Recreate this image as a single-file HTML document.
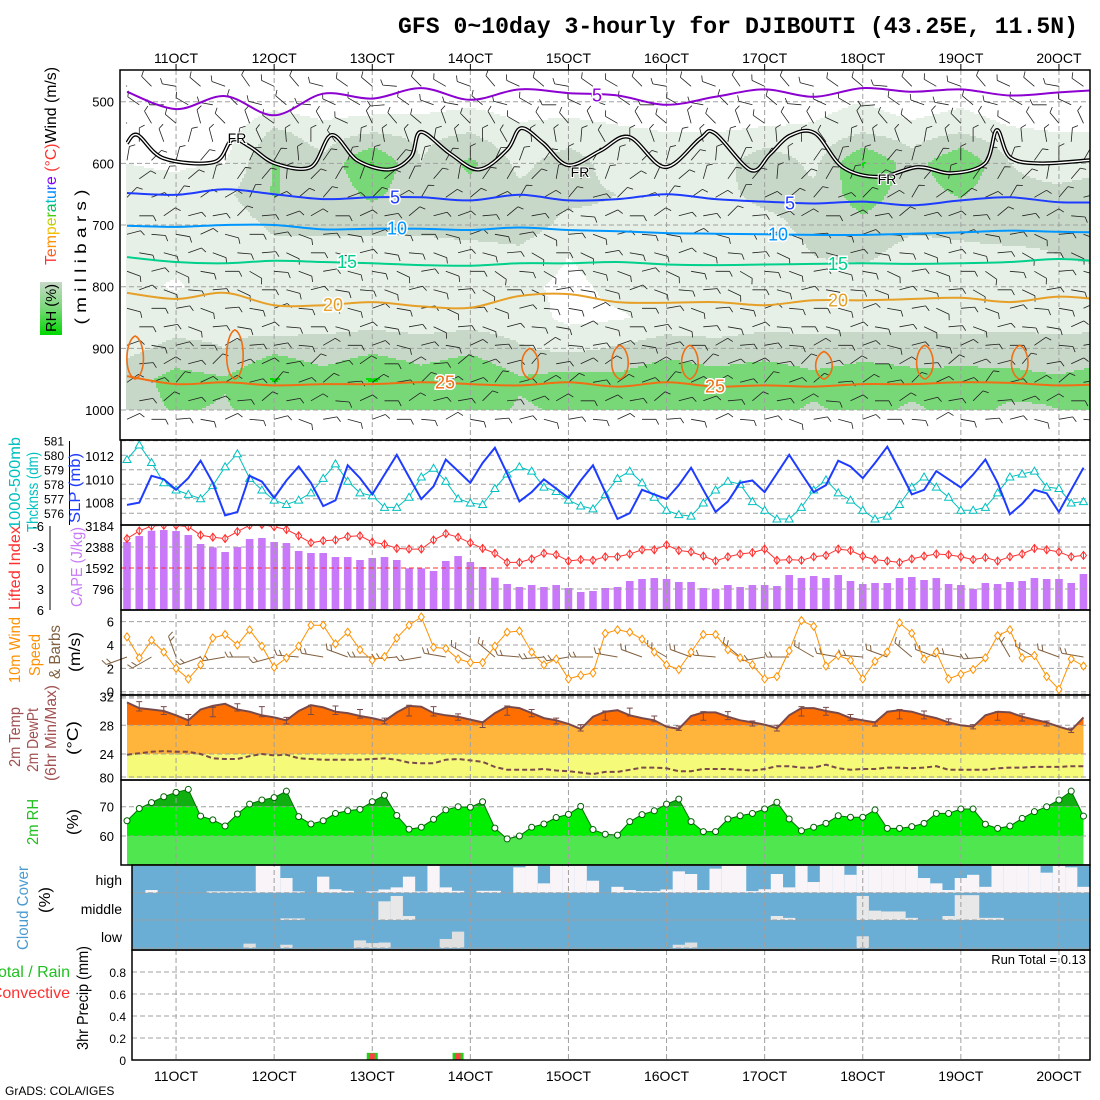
<!DOCTYPE html>
<html><head><meta charset="utf-8"><title>GFS meteogram DJIBOUTI</title>
<style>
html,body{margin:0;padding:0;background:#fff;}
svg{display:block;font-family:"Liberation Sans",sans-serif;}
</style></head>
<body>
<svg id="chart" xmlns="http://www.w3.org/2000/svg" width="1100" height="1100" viewBox="0 0 1100 1100">
<defs>
<clipPath id="plotClip"><rect x="126" y="70" width="964" height="370"/></clipPath>
<linearGradient id="rhGrad" x1="0" y1="1" x2="0" y2="0">
<stop offset="0" stop-color="#00d800"/><stop offset="0.5" stop-color="#78d878"/><stop offset="1" stop-color="#c8d8c8"/>
</linearGradient>
</defs>
<text x="1078" y="33" text-anchor="end" font-family="Liberation Mono, monospace" font-weight="bold" font-size="23" textLength="680" lengthAdjust="spacingAndGlyphs">GFS 0~10day 3-hourly for DJIBOUTI (43.25E, 11.5N)</text>
<text x="5" y="1095" font-size="12">GrADS: COLA/IGES</text>
</svg>
<script>
// ---------- data ----------
const dayLabels = ['11OCT','12OCT','13OCT','14OCT','15OCT','16OCT','17OCT','18OCT','19OCT','20OCT'];
const slp = [1007.8,1008.0,1010.3,1010.0,1009.1,1010.1,1011.6,1009.7,1006.9,1007.2,
1010.3,1009.8,1008.4,1009.9,1011.1,1009.7,1007.7,1008.2,1011.2,1010.1,
1008.7,1010.4,1012.1,1010.2,1008.3,1009.4,1011.7,1010.7,1009.7,1011.4,
1012.7,1010.5,1008.1,1008.9,1010.0,1009.2,1008.4,1009.9,1011.2,1008.9,
1006.6,1007.1,1009.1,1008.7,1008.3,1009.5,1011.0,1009.1,1007.2,1008.1,
1009.7,1009.9,1008.9,1010.5,1012.1,1010.5,1008.9,1009.5,1011.6,1011.1,
1010.1,1011.4,1012.8,1010.8,1008.7,1009.1,1010.7,1010.0,1009.3,1010.4,
1011.7,1009.7,1007.0,1007.9,1009.1,1008.8,1007.2,1009.1,1011.0];
const thick = [579.7,580.7,579.5,578.1,577.6,577.3,577.0,577.9,579.2,580.1,
578.4,577.6,576.9,576.6,576.9,577.4,578.4,579.4,578.2,577.4,
577.2,576.4,576.4,577.1,578.5,579.1,578.2,577.0,576.7,576.6,
577.7,578.7,579.2,578.9,577.8,577.5,576.9,576.5,576.3,577.3,
578.4,578.9,578.1,577.1,576.2,575.9,575.8,576.7,577.6,578.2,
578.0,576.8,576.2,575.6,575.6,576.4,577.6,578.3,577.4,576.9,
576.2,575.6,575.8,576.6,577.8,578.5,577.8,577.1,576.2,576.2,
576.4,577.4,578.5,578.7,578.9,577.8,577.7,576.7,576.8];
const liftedIndex = [-4.2,-5.3,-6.0,-6.1,-6.1,-5.9,-4.7,-4.4,-4.2,-5.2,
-6.1,-6.2,-5.9,-5.5,-4.6,-3.6,-3.9,-4.0,-4.5,-4.6,
-3.7,-3.4,-2.8,-2.7,-2.7,-4.0,-4.9,-4.4,-3.6,-2.8,
-2.1,-0.8,-0.8,-1.3,-2.1,-1.9,-1.0,-1.2,-1.1,-1.6,
-1.6,-2.0,-2.6,-2.6,-3.3,-2.5,-2.3,-1.7,-1.0,-1.6,
-2.0,-2.2,-2.7,-1.1,-1.2,-1.1,-1.6,-1.8,-2.7,-2.5,
-1.7,-1.2,-1.0,-0.8,-1.3,-1.7,-2.0,-1.9,-1.6,-1.2,
-1.5,-1.0,-1.6,-2.0,-2.8,-2.6,-2.3,-1.6,-1.8];
const cape = [2577,2804,3006,3031,2993,2842,2501,2374,2198,2387,
2690,2728,2577,2539,2236,2160,2160,2008,2008,1895,
1970,2008,1895,1579,1579,1478,1857,2046,1819,1629,
1225,985,871,947,871,947,834,682,720,834,
871,1099,1175,1212,1175,1061,1061,834,796,947,
871,947,947,909,1326,1212,1288,1212,1326,1099,
985,1023,1023,1212,1250,1137,1212,985,947,796,
1023,985,1061,1099,1212,1175,1175,1023,1364];
const windSpeed = [4.7,2.9,4.4,3.4,2.0,1.1,2.3,4.6,4.9,4.0,
5.3,3.9,2.1,2.9,3.9,5.7,5.7,4.1,5.1,3.6,
2.7,3.0,4.6,5.7,6.4,3.8,3.7,2.8,2.5,2.5,
3.9,5.1,5.2,3.4,2.3,2.8,1.1,1.4,1.6,5.0,
5.3,5.1,4.5,3.4,2.3,1.9,3.4,4.9,4.9,3.6,
2.9,2.3,1.1,1.3,3.5,6.1,5.6,2.2,3.1,2.7,
1.1,2.6,3.4,5.9,5.0,2.8,3.4,1.1,1.5,1.9,
2.9,4.8,5.3,2.9,3.1,1.3,0.2,2.8,2.2];
const windDir6h = [70,60,160,70,80,90,75,95,100,110,90,85,80,100,120,130,95,85,80,90,
100,110,120,110,95,130,80,90,120,100,95,110,130,110,100,85,150,120,110,100];
const temp2m = [31.2,30.4,30.2,30.0,29.4,28.7,30.2,30.7,31.0,30.2,
29.9,29.4,29.1,28.7,30.0,30.8,30.5,29.9,29.7,29.3,
29.0,28.6,29.8,30.7,30.6,29.7,29.4,29.2,28.8,28.4,
29.7,30.6,30.4,29.7,29.0,28.7,28.2,27.5,29.2,29.9,
30.1,29.4,29.0,28.7,27.8,27.5,29.3,29.8,29.8,29.2,
28.7,28.4,28.1,27.6,29.4,30.4,30.4,30.0,29.7,29.0,
28.7,28.4,29.9,30.1,29.9,29.4,29.0,28.4,28.0,27.8,
29.4,29.9,29.8,29.2,28.8,28.4,27.8,27.3,29.1];
const dew2m = [23.9,24.1,24.3,24.4,24.3,24.3,24.0,23.4,23.3,23.3,
23.7,24.0,23.8,23.9,23.4,23.3,23.2,23.2,23.2,23.2,
23.3,23.4,23.2,22.8,22.7,22.7,23.2,23.3,23.1,22.9,
22.2,21.8,21.8,21.8,21.9,21.7,21.6,21.4,21.2,21.5,
21.5,21.8,22.1,22.1,22.0,21.6,21.6,21.9,21.9,21.9,
21.8,21.7,21.9,22.3,22.3,22.1,22.1,22.5,22.0,21.8,
21.9,21.9,22.1,22.1,22.0,22.1,22.3,21.8,21.8,21.8,
21.8,22.0,22.1,22.1,22.2,22.2,22.2,22.3,22.3];
const rh2m = [65.2,69.4,71.4,73.4,74.9,75.9,66.8,65.5,63.4,67.5,
70.9,72.3,73.1,75.3,66.6,64.1,65.2,67.7,68.6,69.1,
71.7,73.9,67.0,62.3,63.0,65.7,68.9,70.0,69.8,71.7,
62.7,59.0,60.0,63.0,64.1,66.3,67.4,70.1,62.2,60.6,
60.3,64.9,67.3,68.6,70.9,72.6,64.9,61.5,61.5,65.8,
66.9,67.7,69.2,71.5,65.8,61.8,63.0,64.3,66.9,66.4,
66.4,68.9,62.6,62.6,63.2,64.3,67.7,67.7,69.2,69.2,
64.0,62.6,63.4,66.0,68.3,70.0,72.3,75.3,66.8];
const cloudHigh = [0,0,0.1,0,0,0,0,0.05,0.05,0.05,
0.05,1,1,0.55,0.05,0,0.6,0.13,0.07,0,
0.05,0.12,0.2,0.6,0.05,1,0.2,0.07,0,0.07,
0.07,0,0.95,1,0.35,1,1,1,0.45,0,
0.22,0.1,0.06,0.06,0.12,0.8,0.7,0.1,0.9,1,
1,0.06,0.13,0.7,0.2,1,0.4,1,1,0.67,
1,1,1,1,1,0.55,0.35,0.1,0.55,0.67,
0.22,1,1,1,1,0.75,1,0.95,0.22];
const cloudMidIdx = [13,14,21,22,23,53,54,60,61,62,63,64,67,68,69,70,71];
const cloudMidVal = [0.06,0.06,0.7,0.9,0.15,0.15,0.08,0.9,0.35,0.32,0.32,0.08,0.15,0.93,0.93,0.08,0.08];
const cloudLowIdx = [10,13,19,20,21,26,27,45,46,60];
const cloudLowVal = [0.16,0.12,0.28,0.18,0.2,0.33,0.6,0.12,0.2,0.43];
const precipIdx = [20,27];
const precipTotal = [0.065,0.065];
const precipConv = [0.06,0.06];
// 6-hourly min/max temperature bars (every other 3h point)
const tMaxIdx = [1,3,5,7,9,11,13,15,17,19,21,23,25,27,29,31,33,35,37,39,41,43,45,47,49,51,53,55,57,59,61,63,65,67,69,71,73,75,77];
const tMax6 = [31.3,30.6,29.5,30.5,31.0,30.6,29.1,30.8,30.7,30.2,29.0,30.8,30.6,29.6,28.5,30.7,30.2,29.0,28.1,30.0,30.4,29.3,27.9,29.9,29.9,28.6,28.0,30.6,30.5,29.5,28.5,30.2,30.0,28.9,28.1,29.9,29.6,28.6,27.6];
const tMin6 = [30.0,29.5,28.0,29.2,30.0,29.2,28.2,29.5,29.5,29.0,28.2,29.3,29.3,28.7,27.7,29.4,29.2,28.2,27.2,28.7,29.3,28.5,27.3,28.7,28.8,27.9,27.2,29.3,29.4,28.7,27.9,28.9,28.9,28.1,27.5,28.7,28.6,27.9,27.0];
// upper-air RH (%) every 12h (columns) at levels
const rhLevels = [500,550,600,650,700,750,800,850,900,950,1000];
const rh500  = [10,10,10,20,15,15,20,25,20,20,15,15,10,10,20,30,15,25,10,10,10];
const rh550  = [15,15,20,55,40,50,45,50,35,40,35,30,30,35,35,50,40,50,35,30,30];
const rh600  = [30,28,30,72,55,92,50,75,45,60,40,35,40,65,45,92,60,90,50,40,40];
const rh650  = [35,35,45,72,55,75,55,62,55,55,50,50,45,55,55,80,60,72,55,55,65];
const rh700  = [35,32,35,55,55,55,55,60,60,45,45,40,40,45,55,65,55,55,60,55,60];
const rh750  = [35,35,35,40,40,40,40,40,45,30,40,35,35,40,50,55,40,45,45,50,55];
const rh800  = [35,28,40,35,35,35,35,35,35,25,35,35,35,35,40,35,40,40,40,40,40];
const rh850  = [40,40,45,30,40,40,40,40,40,25,28,35,35,40,40,40,40,40,40,40,40];
const rh900  = [45,55,50,65,58,65,58,65,52,45,52,62,58,62,58,62,62,58,62,58,62];
const rh950  = [60,78,72,92,78,92,80,90,72,78,75,85,78,82,75,80,75,78,75,72,78];
const rh1000 = [60,72,68,78,70,78,72,78,68,72,70,74,70,74,68,74,68,74,68,70,74];
// isotherm pressures (mb) every 12h
const isoM5 = [484,512,491,522,487,495,478,497,480,486,490,505,492,480,492,478,484,480,490,485,480];
const iso5  = [648,651,642,650,658,655,655,660,651,660,658,650,658,662,665,662,668,660,655,663,663];
const iso10 = [701,703,700,700,707,706,706,708,704,708,710,713,714,715,716,716,714,712,709,711,712];
const iso15 = [752,760,762,758,760,762,765,766,762,762,760,764,765,764,763,762,763,762,760,755,760];
const iso20 = [810,820,810,830,830,825,832,834,815,812,825,826,825,830,822,822,820,818,825,816,822];
const iso25 = [945,958,955,960,958,958,955,958,960,955,962,955,962,960,962,958,958,955,956,960,958];
const frHours = [0,2.6,9,21.3,25.7,30.1,36.2,45,50.1,56.3,64.1,69.5,71.9,79,86.1,93,96.4,101.8,107.9,115.7,122.8,131.6,140.2,143.8,152.6,157.3,162.2,168.3,175.1,184,193.5,201.6,209.9,212.8,216,223.3,235.5];
const frPres  = [567,554,592,598,562,573,600,606,554,595,610,589,549,584,610,578,543,567,603,580,557,606,560,551,611,585,555,551,606,622,606,616,600,546,590,600,595];
const loop25Hours = [2,26.4,98.6,120.6,137.7,170.5,195.2,218.4];
const loop25Top   = [880,870,900,895,895,905,895,895];
const barbLevels = [475,505,535,565,595,625,655,685,715,745,775,805,835,865,895,925,955,985,1015];
const barbLevelDir = [300,290,320,350,20,30,50,70,90,95,100,95,90,90,80,65,60,70,85];
const barbWobble = [0,15,-20,10,-10,25,-5,20,-15,5,10,-25,15,0,-10,20,-5,10,-20,5];

// ---------- helpers ----------
const NS = 'http://www.w3.org/2000/svg';
const svg = document.getElementById('chart');
function el(tag, attrs, parent){const e=document.createElementNS(NS,tag);for(const k in attrs)e.setAttribute(k,attrs[k]);(parent||svg).appendChild(e);return e;}
const X0 = 127, DX = 12.2625;
const xi = i => X0 + DX*i;
const xh = h => X0 + h*DX/3;
const xDay = d => xh(12 + 24*d);
const yP = p => 101.7 + (p-500)*0.6167;
const ySlp = v => 479.3 - (v-1010)*11.65;
const yTh = v => 440.7 + (581-v)*14.5;
const yLI = v => 568 + v*7.0;
const yCape = v => 610 - v/3184*84;
const yWind = v => 691.7 - v*11.67;
const yT = v => 725.3 - (v-28)*7.17;
const yRH = v => 806.7 - (v-70)*2.93;
const yPr = v => 1060 - v*110;
function txt(x,y,s,opts,parent){const t=el('text',Object.assign({x:x,y:y},opts||{}),parent);t.textContent=s;return t;}
function spline(pts){let d='M'+pts[0][0].toFixed(1)+','+pts[0][1].toFixed(1);
 for(let i=0;i<pts.length-1;i++){const p0=pts[Math.max(i-1,0)],p1=pts[i],p2=pts[i+1],p3=pts[Math.min(i+2,pts.length-1)];
 const c1=[p1[0]+(p2[0]-p0[0])/6,p1[1]+(p2[1]-p0[1])/6],c2=[p2[0]-(p3[0]-p1[0])/6,p2[1]-(p3[1]-p1[1])/6];
 d+=' C'+c1[0].toFixed(1)+','+c1[1].toFixed(1)+' '+c2[0].toFixed(1)+','+c2[1].toFixed(1)+' '+p2[0].toFixed(1)+','+p2[1].toFixed(1);}return d;}
function poly(arr,fx,fy){return arr.map((v,i)=>fx(i).toFixed(1)+','+fy(v).toFixed(1)).join(' ');}
function barb(x,y,dir,len,color,parent,nt,w){const a=dir*Math.PI/180;const ex=x+Math.sin(a)*len,ey=y-Math.cos(a)*len;
 let d='M'+x.toFixed(1)+','+y.toFixed(1)+'L'+ex.toFixed(1)+','+ey.toFixed(1);
 for(let k=0;k<nt;k++){const bx=x+Math.sin(a)*len*(1-k*0.22),by=y-Math.cos(a)*len*(1-k*0.22);const b=a+1.1;d+='M'+bx.toFixed(1)+','+by.toFixed(1)+'L'+(bx+Math.sin(b)*6).toFixed(1)+','+(by-Math.cos(b)*6).toFixed(1);}
 const p=el('path',{d:d,stroke:color,'stroke-width':w||1,fill:'none'},parent);return p;}
const N = temp2m.length;

// ---------- top panel: RH shading ----------
const gRH = el('g',{'clip-path':'url(#plotClip)'});


const rhGrid=[rh500,rh550,rh600,rh650,rh700,rh750,rh800,rh850,rh900,rh950,rh1000];
function rhAt(h,p){let c=Math.min(Math.max(h/12,0),20);let c0=Math.min(Math.floor(c),19),fc=c-c0;let l=Math.min(Math.max((p-500)/50,0),10);let l0=Math.min(Math.floor(l),9),fl=l-l0;
 const a=rhGrid[l0][c0]*(1-fc)+rhGrid[l0][c0+1]*fc,b=rhGrid[l0+1][c0]*(1-fc)+rhGrid[l0+1][c0+1]*fc;return a*(1-fl)+b*fl;}
function rhCol(v){if(v<30)return null;if(v<50)return '#e6f0e6';if(v<70)return '#c8d8c8';if(v<90)return '#78d878';return '#00e000';}
const cs=2;
for(let y=70;y<yP(1000);y+=cs){const p=500+((y+cs/2)-101.7)/0.6167;let runStart=null,runCol=null;
 for(let x=126;x<=1090;x+=cs){const h=((x+cs/2)-X0)*3/DX;const col=(x<1090)?rhCol(rhAt(h,p)):null;
  if(col!==runCol){if(runCol){const r=el('rect',{x:runStart,y:y,width:x-runStart,height:Math.min(cs,yP(1000)-y),fill:runCol},gRH);
   
   }
   runStart=x;runCol=col;}}}

// ---------- panel frames & grids ----------
const gGrid = el('g',{});


const cloudBg = el('rect',{x:132,y:866,width:958,height:83,fill:'#6aaed6'});



// ---------- temp panel fills ----------
const tClip = el('clipPath',{id:'tClip'});
const tcp = el('polygon',{points:xi(0)+',781 '+poly(temp2m,xi,yT)+' '+xi(N-1)+',781'},tClip);


const gT = el('g',{'clip-path':'url(#tClip)'});


[[28,40,'#ff6e00'],[24,28,'#ffb43c'],[10,24,'#f5fa78']].forEach(b=>{const r=el('rect',{x:120,y:yT(b[1]),width:980,height:yT(b[0])-yT(b[1]),fill:b[2]},gT);
 
 });
const tYellowFix = el('rect',{x:120,y:778,width:980,height:3,fill:'#fff'},gT);


// ---------- RH panel fills ----------
const rClip = el('clipPath',{id:'rClip'});
const rcp = el('polygon',{points:xi(0)+',865 '+poly(rh2m,xi,yRH)+' '+xi(N-1)+',865'},rClip);


const gR = el('g',{'clip-path':'url(#rClip)'});


[[70,90,'#10b010'],[60,70,'#00ee00'],[40,60,'#50e650']].forEach(b=>{const r=el('rect',{x:120,y:yRH(b[1]),width:980,height:yRH(b[0])-yRH(b[1]),fill:b[2]},gR);
 
 });

// ---------- cloud columns ----------
const gC = el('g',{});


function cloudCol(i,v,bottom,hgt,color){if(v<=0)return;let x1=Math.max(xi(i)-DX/2,132),x2=Math.min(xi(i)+DX/2,1090);
 const r=el('rect',{x:x1,y:bottom-v*hgt,width:x2-x1,height:v*hgt,fill:color},gC);
 
 }
cloudHigh.forEach((v,i)=>cloudCol(i,v,892.7,26.7,'#f8f4f8'));
cloudMidIdx.forEach((ix,k)=>cloudCol(ix,cloudMidVal[k],920,26.7,'#e8e8e8'));
cloudLowIdx.forEach((ix,k)=>cloudCol(ix,cloudLowVal[k],948,27.3,'#e0e0e0'));

// ---------- CAPE bars ----------
const gCape = el('g',{});


cape.forEach((v,i)=>{const r=el('rect',{x:xi(i)-3.8,y:yCape(v),width:7.6,height:610-yCape(v),fill:'#c878f8'},gCape);
 
 });

// ---------- dashed grid ----------
function hdash(y,x1,x2,color){const l=el('line',{x1:x1,x2:x2,y1:y,y2:y,stroke:color||'#a0a0a0','stroke-dasharray':'5,3','stroke-width':1},gGrid);
 
 }
svg.appendChild(gGrid);
dayLabels.forEach((s,d)=>{const l=el('line',{x1:xDay(d),x2:xDay(d),y1:70,y2:1060,stroke:'#a0a0a0','stroke-dasharray':'5,3'},gGrid);
 
 });
[500,600,700,800,900,1000].forEach(p=>hdash(yP(p),121,1090));
[581,580,579,578,577,576].forEach(v=>hdash(yTh(v),121,1090));
[-3,3].forEach(v=>hdash(yLI(v),121,1090));
hdash(yLI(0),121,1090,'#ff3030');
[6,4,2,0].forEach(v=>hdash(yWind(v),121,1090));
hdash(694,121,1090);
[32,28,24].forEach(v=>hdash(yT(v),121,1090));
hdash(777,121,1090);
hdash(698,121,1090);
[70,60].forEach(v=>hdash(yRH(v),121,1090));
[892.7,920,948].forEach(v=>hdash(v,132,1090));
[0.2,0.4,0.6,0.8].forEach(v=>hdash(yPr(v),132,1090));

// ---------- top panel barbs ----------
const gB = el('g',{'clip-path':'url(#plotClip)'});


barbLevels.forEach((p,r)=>{for(let k=0;k<40;k++){const i=2*k+(r%2);if(i>=N)continue;
 const b=barb(xi(i),yP(p),barbLevelDir[r]+barbWobble[(k+r)%20],14,'#202020',gB,1,0.8);
 
 }});

// ---------- isotherms ----------
const gIso = el('g',{'clip-path':'url(#plotClip)'});


function isoLine(arr,color,w,name){const pts=arr.map((p,c)=>[xh(12*c),yP(p)]);const e=el('path',{d:spline(pts),stroke:color,'stroke-width':w,fill:'none'},gIso);
 
 }
isoLine(isoM5,'#8c00d0',2,'isotherm-minus5');
isoLine(iso5,'#1e3cff',2,'isotherm-5');
isoLine(iso10,'#0096ff',2,'isotherm-10');
isoLine(iso15,'#00d08c',2,'isotherm-15');
isoLine(iso20,'#e6a028',2,'isotherm-20');
isoLine(iso25,'#f06e14',2,'isotherm-25');
loop25Hours.forEach((h,k)=>{const cx=xh(h),top=yP(loop25Top[k]),bot=yP(950);
 const d='M'+cx+','+bot+' C'+(cx-12)+','+(bot-5)+' '+(cx-10)+','+(top+4)+' '+cx+','+top+' C'+(cx+10)+','+(top+4)+' '+(cx+12)+','+(bot-5)+' '+cx+','+bot;
 const e=el('path',{d:d,stroke:'#f06e14','stroke-width':1.6,fill:'none'},gIso);
 
 });
const frPts = frHours.map((h,k)=>[xh(h),yP(frPres[k])]);
const fr1 = el('path',{d:spline(frPts),stroke:'#000','stroke-width':4,fill:'none'},gIso);


const fr2 = el('path',{d:spline(frPts),stroke:'#fff','stroke-width':1.4,fill:'none'},gIso);


const isoLabels=[['-5',597,'#8c00d0',-5],['5',395,'#1e3cff',5],['5',790,'#1e3cff',5],['10',397,'#0096ff',10],['10',778,'#0096ff',10],['15',347,'#00d08c',15],['15',838,'#00d08c',15],['20',333,'#e6a028',20],['20',838,'#e6a028',20],['25',445,'#f06e14',25],['25',715,'#f06e14',25]];
const isoYs={'-5':isoM5,'5':iso5,'10':iso10,'15':iso15,'20':iso20,'25':iso25};
isoLabels.forEach(L=>{const arr=isoYs[String(L[3])];const c=Math.round((L[1]-X0)/(4*DX));const y=yP(arr[Math.min(c,20)]);
 const t=txt(L[1],y+6,L[0]==='-5'?'5':L[0],{fill:L[2],'font-size':18,'text-anchor':'middle',stroke:'#fff','stroke-width':3,'paint-order':'stroke'},gIso);
 
 });
[[237,143],[580,177],[887,184]].forEach(q=>{const t=txt(q[0],q[1],'FR',{fill:'#000','font-size':14,'text-anchor':'middle',stroke:'#fff','stroke-width':2,'paint-order':'stroke'},gIso);
 
 });

// ---------- SLP / thickness ----------
const thLine = el('polyline',{points:poly(thick,xi,yTh),stroke:'#00c0c0','stroke-width':1,fill:'none'});


thick.forEach((v,i)=>{const x=xi(i),y=yTh(v);const m=el('polygon',{points:x+','+(y-4)+' '+(x-4)+','+(y+3)+' '+(x+4)+','+(y+3),fill:'#fff',stroke:'#00c0c0','stroke-width':1});
 
 });
const slpLine = el('polyline',{points:poly(slp,xi,ySlp),stroke:'#1e3cff','stroke-width':2,fill:'none'});



// ---------- lifted index ----------
const gLI = el('g',{});


const liClip = el('clipPath',{id:'liClip'});
const lcr = el('rect',{x:121,y:526,width:969,height:84},liClip);


gLI.setAttribute('clip-path','url(#liClip)');
const liLine = el('polyline',{points:poly(liftedIndex,xi,yLI),stroke:'#ff3030','stroke-width':1,fill:'none'},gLI);


liftedIndex.forEach((v,i)=>{const x=xi(i),y=yLI(v);const m=el('path',{d:'M'+x+','+(y-4)+'L'+(x+3)+','+y+'L'+x+','+(y+4)+'L'+(x-3)+','+y+'Z M'+x+','+(y-4)+'V'+(y+4),fill:'#fff',stroke:'#ff3030','stroke-width':1},gLI);
 
 });

// ---------- 10m wind ----------
const gW = el('g',{});


windDir6h.forEach((d,k)=>{const b=barb(xi(2*k),657,d+180,22,'#806040',gW,2);
 
 });
const wLine = el('polyline',{points:poly(windSpeed,xi,yWind),stroke:'#ff9000','stroke-width':1,fill:'none'});


windSpeed.forEach((v,i)=>{const x=xi(i),y=yWind(v);const m=el('path',{d:'M'+x+','+(y-4)+'L'+(x+3)+','+y+'L'+x+','+(y+4)+'L'+(x-3)+','+y+'Z',fill:'#fff',stroke:'#ff9000','stroke-width':1});
 
 });

// ---------- temp lines ----------
const tLine = el('polyline',{points:poly(temp2m,xi,yT),stroke:'#7a4a4a','stroke-width':2,fill:'none'});


const dLine = el('polyline',{points:poly(dew2m,xi,yT),stroke:'#7a4a4a','stroke-width':2,fill:'none','stroke-dasharray':'5,3'});


tMaxIdx.forEach((ix,k)=>{const x=xi(ix),y1=yT(tMax6[k]),y2=yT(tMin6[k]);
 const e=el('path',{d:'M'+x+','+y1+'V'+y2+'M'+(x-3)+','+y1+'H'+(x+3)+'M'+(x-3)+','+y2+'H'+(x+3),stroke:'#7a4a4a','stroke-width':1,fill:'none'});
 
 });

// ---------- RH line ----------
const rLine = el('polyline',{points:poly(rh2m,xi,yRH),stroke:'#007000','stroke-width':1,fill:'none'});


rh2m.forEach((v,i)=>{const m=el('circle',{cx:xi(i),cy:yRH(v),r:3,fill:'#fff',stroke:'#006000','stroke-width':1});
 
 });

// ---------- precip ----------
precipIdx.forEach((ix,k)=>{const x=xi(ix);
 const g=el('rect',{x:x-5.5,y:yPr(precipTotal[k]),width:11,height:1060-yPr(precipTotal[k]),fill:'#20d020'});
 
 
 const r=el('rect',{x:x-2.5,y:yPr(precipConv[k]),width:5,height:1060-yPr(precipConv[k]),fill:'#ff4040'});
 
 });

// ---------- frames ----------
const gF = el('g',{fill:'none',stroke:'#000','stroke-width':1.5});


[[120,70,970,370],[121,440,969,85],[121,525,969,85],[121,610,969,85],[121,695,969,85],[121,780,969,85],[132,865,958,85],[132,950,958,110]].forEach(f=>{const r=el('rect',{x:f[0],y:f[1],width:f[2],height:f[3]},gF);
 
 });
const thAxis = el('line',{x1:69.5,x2:69.5,y1:441,y2:525,stroke:'#000'});


const liAxis = el('line',{x1:50,x2:50,y1:526,y2:610,stroke:'#000'});



// ---------- labels ----------
const F13={'font-size':13,'text-anchor':'end'};
dayLabels.forEach((s,d)=>{const t1=txt(xDay(d),63,s,{'font-size':14,'text-anchor':'middle'});
 
 
 const t2=txt(xDay(d),1081,s,{'font-size':14,'text-anchor':'middle'});
 
 
 const tk=el('line',{x1:xDay(d),x2:xDay(d),y1:64,y2:70,stroke:'#000'});
 
 });
[500,600,700,800,900,1000].forEach(p=>{const t=txt(114,yP(p)+5,String(p),F13);
 
 });
[581,580,579,578,577,576].forEach(v=>{const t=txt(64,yTh(v)+5,String(v),{'font-size':12,'text-anchor':'end'});
 
 });
[1012,1010,1008].forEach(v=>{const t=txt(114,ySlp(v)+5,String(v),F13);
 
 });
[-6,-3,0,3,6].forEach(v=>{const t=txt(44,yLI(v)+5,String(v),F13);
 
 });
[3184,2388,1592,796].forEach(v=>{const t=txt(114,yCape(v)+5,String(v),F13);
 
 });
[6,4,2,0].forEach(v=>{const t=txt(114,yWind(v)+5,String(v),F13);
 
 });
[32,28,24].forEach(v=>{const t=txt(114,yT(v)+5,String(v),F13);
 
 });
[80,70,60].forEach(v=>{const t=txt(114,yRH(v)+5,String(v),F13);
 
 });
[['high',885],['middle',914],['low',942]].forEach(q=>{const t=txt(122,q[1],q[0],{'font-size':14,'text-anchor':'end'});
 
 });
[0.8,0.6,0.4,0.2,0].forEach(v=>{const t=txt(126,yPr(v)+5,String(v),{'font-size':12,'text-anchor':'end'});
 
 });
const runTot = txt(1086,964,'Run Total = 0.13',{'font-size':13,'text-anchor':'end'});


const lgA = txt(70,977,'Total / Rain',{'font-size':16,'text-anchor':'end',fill:'#20c020'});


const lgB = txt(70,998,'Convective',{'font-size':16,'text-anchor':'end',fill:'#ff3030'});


function vlab(x,cy,s,color,size,len,name){const t=el('text',{x:0,y:0,transform:'translate('+x+','+cy+') rotate(-90)','text-anchor':'middle','font-size':size,fill:color,textLength:len,lengthAdjust:'spacingAndGlyphs'});t.textContent=s;
 
 return t;}
const rhBox = el('rect',{x:40,y:282,width:22,height:53,fill:'url(#rhGrad)'});


vlab(56,308,'RH (%)','#000',15,48,'rh-axis-title');
const tw = el('text',{x:0,y:0,transform:'translate(56,166) rotate(-90)','text-anchor':'middle','font-size':16,textLength:198,lengthAdjust:'spacingAndGlyphs'});


const twParts=[['T','#ff3030'],['e','#ff6020'],['m','#ff9000'],['p','#f0c000'],['e','#c0d000'],['r','#40d000'],['a','#00c060'],['t','#00c0c0'],['u','#0090ff'],['r','#2050ff'],['e','#8000ff'],[' (°C)','#ff3030'],['Wind (m/s)','#000']];
twParts.forEach(p=>{const s=el('tspan',{fill:p[1]},tw);s.textContent=p[0];
 
 });
vlab(86,257,'( m i l l i b a r s )','#000',16,135,'pressure-axis-title');
vlab(20,483,'1000-500mb','#00c0c0',16,92,'thickness-title');
vlab(38,492,'Thcknss (dm)','#00c0c0',16,80,'thickness-unit-title');
vlab(80,488,'SLP (mb)','#1e3cff',16,70,'slp-title');
vlab(20,568,'Lifted Index','#ff3030',16,84,'lifted-index-title');
vlab(82,567,'CAPE (J/kg)','#c878f8',16,80,'cape-title');
vlab(20,650,'10m Wind','#ff9000',16,66,'wind10m-title');
vlab(40,655,'Speed','#ff9000',16,42,'wind-speed-title');
vlab(60,652,'& Barbs','#806040',16,54,'barbs-title');
vlab(80,652,'(m/s)','#000',16,40,'wind-unit-title');
vlab(20,737,'2m Temp','#a05050',16,60,'temp2m-title');
vlab(38,740,'2m DewPt','#a05050',16,64,'dewpoint-title');
vlab(56,733,'(6hr Min/Max)','#a05050',16,96,'minmax-title');
vlab(78,738,'(°C)','#000',16,34,'temp-unit-title');
vlab(38,822,'2m RH','#20c020',16,46,'rh2m-title');
vlab(78,822,'(%)','#000',16,26,'rh2m-unit-title');
vlab(28,908,'Cloud Cover','#4a9bd0',16,84,'cloud-cover-title');
vlab(50,900,'(%)','#000',16,26,'cloud-unit-title');
vlab(88,998,'3hr Precip (mm)','#000',16,104,'precip-title');
</script>
</body></html>
